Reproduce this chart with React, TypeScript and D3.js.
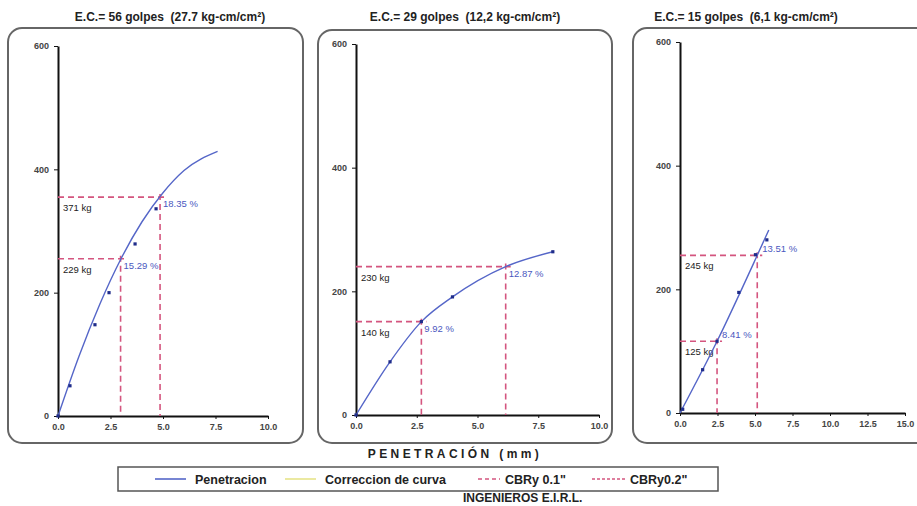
import * as d3 from "d3";
import { useEffect, useRef } from "react";

type P = [number, number];

// títulos de cada ensayo
const titles = [
  "E.C.= 56 golpes  (27.7 kg-cm/cm²)",
  "E.C.= 29 golpes  (12,2 kg-cm/cm²)",
  "E.C.= 15 golpes  (6,1 kg-cm/cm²)",
];
const xMax = [10, 10, 15];
const xTicks = [
  [0, 2.5, 5, 7.5, 10],
  [0, 2.5, 5, 7.5, 10],
  [0, 2.5, 5, 7.5, 10, 12.5, 15],
];
const yTicks = [0, 200, 400, 600];

// curva ajustada (penetracion mm, carga kg)
const curve56: P[] = [[0, 0], [1, 97], [2, 182], [3, 255], [4, 315], [5, 362], [6, 398], [7.6, 429]];
const curve29: P[] = [[0, 0], [1.4, 86], [2.69, 151], [3.97, 191], [6.16, 240], [8.1, 264]];
const curve15: P[] = [[0, 0], [2.47, 116], [5.15, 255], [5.92, 296]];

// puntos medidos
const points56: P[] = [[0, 0], [0.57, 49], [1.76, 148], [2.43, 200], [3.67, 279], [4.67, 336]];
const points29: P[] = [[0, 0], [1.4, 86], [2.69, 151], [3.97, 191], [8.1, 264]];
const points15: P[] = [[0.18, 6], [1.51, 70], [2.47, 116], [3.92, 195], [5.03, 256], [5.79, 280]];

// CBR 0.1" y 0.2"
const cbr01x = [2.98, 2.69, 2.47];
const cbr01y = [255, 151, 116];
const cbr02x = [4.86, 6.16, 5.15];
const cbr02y = [355, 240, 255];
const load01 = ["229 kg", "140 kg", "125 kg"];
const load02 = ["371 kg", "230 kg", "245 kg"];
const pct01 = ["15.29 %", "9.92 %", "8.41 %"];
const pct02 = ["18.35 %", "12.87 %", "13.51 %"];

const legendLabels = ["Penetracion", "Correccion de curva", 'CBRy 0.1"', 'CBRy0.2"'];

const curves = [curve56, curve29, curve15];
const points = [points56, points29, points15];

const FONT = "'Liberation Sans', Arial, sans-serif";
const BLUE = "#5566c8";
const RED = "#d4557f";

export default function App() {
  const ref = useRef<SVGSVGElement>(null);

  useEffect(() => {
    if (!ref.current) return;
    const svg = d3.select(ref.current);
    svg.selectAll("*").remove();

    // cajas y áreas de trazado
    const boxes = [
      { x: 8, y: 28, w: 295, h: 415, tx: 170 },
      { x: 318, y: 30, w: 294, h: 413, tx: 465 },
      { x: 633, y: 28, w: 300, h: 415, tx: 746 },
    ];
    const plots = [
      { x0: 58, x1: 268, y0: 416, y1: 46 },
      { x0: 356, x1: 599, y0: 415, y1: 44 },
      { x0: 680, x1: 905, y0: 413, y1: 42 },
    ];
    const pctDy = [10, 10, -3];
    const pctDx = [3, 3, 5];

    boxes.forEach((b, i) => {
      svg
        .append("text")
        .attr("x", b.tx)
        .attr("y", 21)
        .attr("text-anchor", "middle")
        .attr("font-family", FONT)
        .attr("font-weight", "bold")
        .attr("font-size", 12)
        .style("white-space", "pre")
        .attr("fill", "#222")
        .text(titles[i]);

      svg
        .append("rect")
        .attr("x", b.x)
        .attr("y", b.y)
        .attr("width", b.w)
        .attr("height", b.h)
        .attr("rx", 14)
        .attr("fill", "none")
        .attr("stroke", "#666")
        .attr("stroke-width", 2);

      const p = plots[i];
      const x = d3.scaleLinear().domain([0, xMax[i]]).range([p.x0, p.x1]);
      const y = d3.scaleLinear().domain([0, 600]).range([p.y0, p.y1]);
      const g = svg.append("g");

      // eje Y
      const gy = g
        .append("g")
        .attr("transform", `translate(${p.x0},0)`)
        .call(d3.axisLeft(y).tickValues(yTicks).tickSize(4).tickPadding(5).tickSizeOuter(0));
      gy.select(".domain").attr("stroke", "#111").attr("stroke-width", 2);
      gy.selectAll(".tick line").attr("stroke", "#111");
      gy.selectAll(".tick text")
        .attr("font-family", FONT)
        .attr("font-weight", "bold")
        .attr("font-size", 9)
        .attr("fill", "#444");

      // eje X
      const gx = g
        .append("g")
        .attr("transform", `translate(0,${p.y0})`)
        .call(
          d3
            .axisBottom(x)
            .tickValues(xTicks[i])
            .tickFormat(d3.format(".1f"))
            .tickSize(3)
            .tickPadding(5)
            .tickSizeOuter(0)
        );
      gx.select(".domain").attr("stroke", "#111").attr("stroke-width", 2);
      gx.selectAll(".tick line").attr("stroke", "#111");
      gx.selectAll(".tick text")
        .attr("font-family", FONT)
        .attr("font-weight", "bold")
        .attr("font-size", 9)
        .attr("fill", "#444");

      // líneas CBR
      const cbr = [
        { cx: cbr01x[i], cy: cbr01y[i], load: load01[i], pct: pct01[i] },
        { cx: cbr02x[i], cy: cbr02y[i], load: load02[i], pct: pct02[i] },
      ];
      cbr.forEach((c) => {
        g.append("line")
          .attr("x1", x(0))
          .attr("x2", x(c.cx) + 5)
          .attr("y1", y(c.cy))
          .attr("y2", y(c.cy))
          .attr("stroke", RED)
          .attr("stroke-width", 1.6)
          .attr("stroke-dasharray", "6,4");
        g.append("line")
          .attr("x1", x(c.cx))
          .attr("x2", x(c.cx))
          .attr("y1", y(c.cy) - 3)
          .attr("y2", y(0))
          .attr("stroke", RED)
          .attr("stroke-width", 1.6)
          .attr("stroke-dasharray", "6,4");
        g.append("text")
          .attr("x", x(0) + 5)
          .attr("y", y(c.cy) + 14)
          .attr("font-family", FONT)
          .attr("font-size", 9.5)
          .attr("fill", "#222")
          .text(c.load);
        g.append("text")
          .attr("x", x(c.cx) + pctDx[i])
          .attr("y", y(c.cy) + pctDy[i])
          .attr("font-family", FONT)
          .attr("font-size", 9.5)
          .attr("fill", "#4a58c0")
          .text(c.pct);
      });

      // curva
      const line = d3
        .line<P>()
        .x((d) => x(d[0]))
        .y((d) => y(d[1]))
        .curve(d3.curveMonotoneX);
      g.append("path")
        .attr("d", line(curves[i]))
        .attr("fill", "none")
        .attr("stroke", BLUE)
        .attr("stroke-width", 1.4);

      g.selectAll(".pt")
        .data(points[i])
        .enter()
        .append("rect")
        .attr("x", (d) => x(d[0]) - 1.6)
        .attr("y", (d) => y(d[1]) - 1.6)
        .attr("width", 3.2)
        .attr("height", 3.2)
        .attr("fill", "#1f2c8a");
    });

    // título eje X
    svg
      .append("text")
      .attr("x", 455)
      .attr("y", 458)
      .attr("text-anchor", "middle")
      .attr("font-family", FONT)
      .attr("font-weight", "bold")
      .attr("font-size", 12)
      .attr("letter-spacing", 3.4)
      .attr("fill", "#222")
      .text("PENETRACIÓN (mm)");

    // leyenda
    svg
      .append("rect")
      .attr("x", 118)
      .attr("y", 467)
      .attr("width", 600)
      .attr("height", 24)
      .attr("fill", "none")
      .attr("stroke", "#555")
      .attr("stroke-width", 1.5);
    const items = [
      { x1: 155, x2: 186, tx: 195, color: BLUE, dash: null as string | null },
      { x1: 285, x2: 316, tx: 325, color: "#e6e48a", dash: null },
      { x1: 478, x2: 500, tx: 505, color: RED, dash: "4,3" },
      { x1: 592, x2: 626, tx: 630, color: RED, dash: "3,2" },
    ];
    items.forEach((it, i) => {
      const l = svg
        .append("line")
        .attr("x1", it.x1)
        .attr("x2", it.x2)
        .attr("y1", 479)
        .attr("y2", 479)
        .attr("stroke", it.color)
        .attr("stroke-width", 1.6);
      if (it.dash) l.attr("stroke-dasharray", it.dash);
      svg
        .append("text")
        .attr("x", it.tx)
        .attr("y", 483.5)
        .attr("font-family", FONT)
        .attr("font-weight", "bold")
        .attr("font-size", 12.5)
        .attr("fill", "#222")
        .text(legendLabels[i]);
    });

    svg
      .append("text")
      .attr("x", 463)
      .attr("y", 502)
      .attr("font-family", FONT)
      .attr("font-weight", "bold")
      .attr("font-size", 12)
      .attr("fill", "#222")
      .text("INGENIEROS E.I.R.L.");
  }, []);

  return (
    <svg
      ref={ref}
      width={917}
      height={506}
      style={{ position: "absolute", left: 0, top: 0, background: "#fff" }}
    ></svg>
  );
}
